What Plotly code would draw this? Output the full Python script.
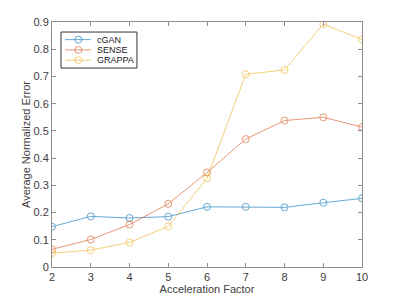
import plotly.graph_objects as go

accel = [2, 3, 4, 5, 6, 7, 8, 9, 10]
cgan = [0.148, 0.186, 0.180, 0.185, 0.221, 0.221, 0.219, 0.236, 0.252]
sense = [0.065, 0.101, 0.156, 0.232, 0.347, 0.470, 0.538, 0.550, 0.514]
grappa = [0.051, 0.062, 0.090, 0.149, 0.326, 0.708, 0.724, 0.892, 0.836]
series_names = ["cGAN", "SENSE", "GRAPPA"]
colors = ["#0072BD", "#D95319", "#EDB120"]
x_ticks = [2, 3, 4, 5, 6, 7, 8, 9, 10]
y_ticks = [0, 0.1, 0.2, 0.3, 0.4, 0.5, 0.6, 0.7, 0.8, 0.9]
y_tick_text = ["0", "0.1", "0.2", "0.3", "0.4", "0.5", "0.6", "0.7", "0.8", "0.9"]

fig = go.Figure()
for name, vals, c in zip(series_names, [cgan, sense, grappa], colors):
    fig.add_trace(go.Scatter(
        x=accel, y=vals, name=name, mode="lines+markers",
        line=dict(color=c, width=1), opacity=0.6, showlegend=False,
        marker=dict(symbol="circle-open", size=7, color=c, line=dict(width=1, color=c)),
    ))

# Compact MATLAB-style legend drawn in paper coordinates
leg_x0, leg_x1, leg_y0, leg_y1 = 0.029, 0.274, 0.812, 0.959
row_y = [0.928, 0.886, 0.844]
line_x0, line_x1, marker_x, text_x = 0.042, 0.126, 0.085, 0.139
fig.add_shape(type="rect", xref="paper", yref="paper", x0=leg_x0, x1=leg_x1, y0=leg_y0, y1=leg_y1,
              line=dict(color="#333", width=1), fillcolor="white", layer="above")
for name, c, ry in zip(series_names, colors, row_y):
    fig.add_shape(type="line", xref="paper", yref="paper", x0=line_x0, x1=line_x1, y0=ry, y1=ry,
                  line=dict(color=c, width=1), opacity=0.6, layer="above")
    fig.add_shape(type="circle", xref="paper", yref="paper", xsizemode="pixel", ysizemode="pixel",
                  xanchor=marker_x, yanchor=ry, x0=-3.5, x1=3.5, y0=-3.5, y1=3.5,
                  line=dict(color=c, width=1), fillcolor="rgba(0,0,0,0)", opacity=0.6, layer="above")
    fig.add_annotation(x=text_x, y=ry, xref="paper", yref="paper", text=name, showarrow=False,
                       xanchor="left", yanchor="middle",
                       font=dict(family="Liberation Sans, Arial", size=9, color="#202020"))

axis_common = dict(
    showline=True, linecolor="#8c8c8c", linewidth=1, mirror="ticks",
    ticks="inside", ticklen=4, tickcolor="#8c8c8c", showgrid=False, zeroline=False,
    automargin=False,
    tickfont=dict(family="Liberation Sans, Arial", size=11, color="#404040"),
)
fig.update_layout(
    width=392, height=292,
    margin=dict(l=44, r=38, t=14, b=33),
    paper_bgcolor="white", plot_bgcolor="white",
    font=dict(family="Liberation Sans, Arial", size=11, color="#404040"),
    xaxis=dict(range=[2, 10], tickvals=x_ticks, ticktext=[str(t) for t in x_ticks],
               title=dict(text="Acceleration Factor", standoff=2, font=dict(size=11)), **axis_common),
    yaxis=dict(range=[0, 0.9], tickvals=y_ticks, ticktext=y_tick_text,
               title=dict(text="Average Normalized Error", standoff=0, font=dict(size=11)), **axis_common),
    showlegend=False,
)
fig.write_html("out.html")
